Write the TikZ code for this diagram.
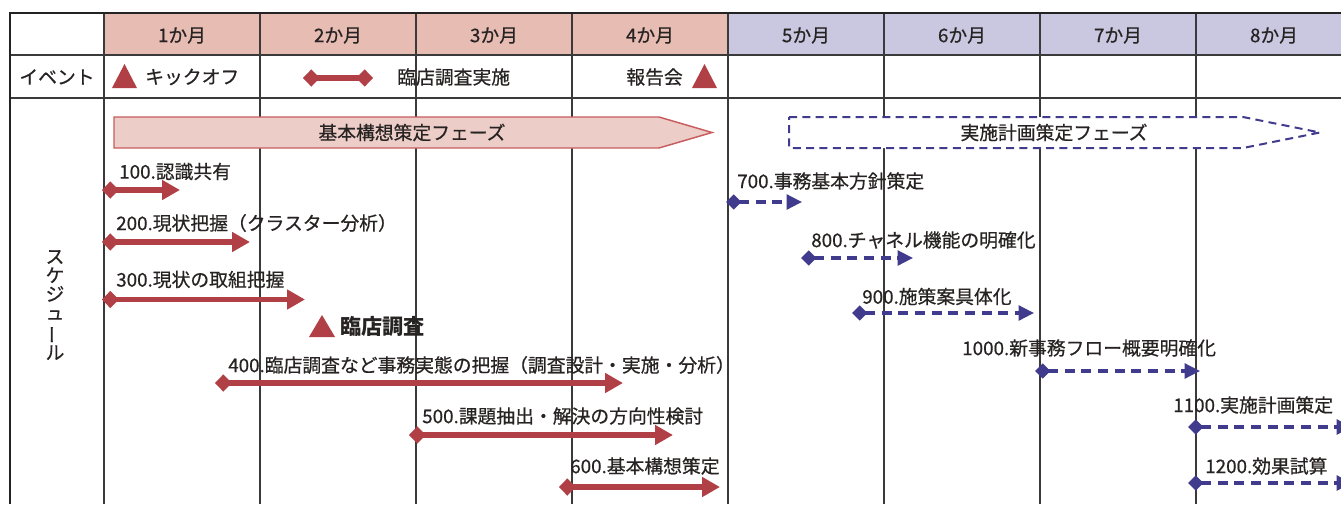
\documentclass[tikz,border=0pt]{standalone}
\usepackage{fontspec}
\usepackage{graphicx}
\setmainfont[UprightFeatures={RawFeature={embolden=0.6}}]{Noto Sans CJK JP}
\usetikzlibrary{arrows.meta}
\definecolor{hdrpink}{RGB}{230,188,179}
\definecolor{hdrblue}{RGB}{201,200,224}
\definecolor{taskred}{RGB}{176,64,69}
\definecolor{taskblue}{RGB}{64,59,140}
\definecolor{phasepink}{RGB}{237,205,199}
\definecolor{phaseline}{RGB}{200,92,94}
\definecolor{gridgray}{RGB}{58,58,58}
\definecolor{txt}{RGB}{40,35,35}
\begin{document}
\begin{tikzpicture}[x=0.75pt,y=-0.75pt,
    every node/.style={inner sep=0pt,text=txt,font=\fontsize{14.1}{16}\selectfont},
    gridline/.style={draw=gridgray,line width=1pt},
    frameline/.style={draw=gridgray!60!black,line width=2pt},
    redtask/.style={draw=taskred,line width=3.8pt,{Diamond[length=12.5pt,width=13pt]}-{Triangle[length=13.5pt,width=14.3pt]}},
    redlegend/.style={draw=taskred,line width=3.8pt,{Diamond[length=12.5pt,width=13pt]}-{Diamond[length=12.5pt,width=13pt]}},
    bluetask/.style={draw=taskblue,line width=2.5pt,dash pattern=on 7.5pt off 5pt,{Diamond[length=11.5pt,width=11.5pt]}-{Triangle[length=11.5pt,width=11pt]}},
    phasered/.style={fill=phasepink,draw=phaseline,line width=1.1pt},
    phaseblue/.style={fill=white,draw=taskblue,line width=1.5pt,dash pattern=on 6pt off 4pt},
    tasklabel/.style={anchor=west}]
    \useasboundingbox (0,0) rectangle (1341,504);
    % header cells
    \foreach \i in {1,...,4}
        \fill[hdrpink] ({104+156*(\i-1)},13) rectangle ++(156,42);
    \foreach \i in {5,...,8}
        \fill[hdrblue] ({104+156*(\i-1)},13) rectangle ++(156,42);
    \foreach \i in {1,...,8}
        \node (m\i) at ({26+156*\i},35.5) {\i か月};
    % grid
    \foreach \x in {104,260,416,572,728,884,1040,1196}
        \draw[gridline] (\x,13) -- (\x,504);
    \draw[gridline] (10,55) -- (1341,55);
    \draw[gridline] (10,98) -- (1341,98);
    \draw[frameline] (1341,13) -- (10,13) -- (10,504);
    % events
    \node (event) at (57,77) {イベント};
    \fill[taskred] (112,88) -- (124.5,64) -- (137,88) -- cycle;
    \node[anchor=west] (kickoff) at (145,77) {キックオフ};
    \coordinate (lega) at (303,78);
    \coordinate (legb) at (373,78);
    \draw[redlegend] (lega) -- (legb);
    \node[anchor=west] (rinten) at (397,77) {臨店調査実施};
    \node[anchor=east] (houkoku) at (683,77) {報告会};
    \fill[taskred] (692,88) -- (704.5,64) -- (717,88) -- cycle;
    % schedule
    \node[align=center,font=\fontsize{14.1}{14.1}\selectfont] (sched) at (55,305)
        {ス\\ケ\\ジ\\ュ\\\rotatebox[origin=c]{90}{ー}\\ル};
    \draw[phasered] (114,117) -- (659,117) -- (712,132.5) -- (659,148) -- (114,148) -- cycle;
    \node (phase1) at (412,132.5) {基本構想策定フェーズ};
    \draw[phaseblue] (789,117) -- (1243,117) -- (1320,132.5) -- (1243,148) -- (789,148) -- cycle;
    \node (phase2) at (1054,132.5) {実施計画策定フェーズ};
    % red tasks: name/start/end/y/label x/label y/text
    \foreach \n/\xa/\xb/\y/\lx/\ly/\t in {
        100/102/180/190/119/171.5/100.認識共有,
        200/102/250/242/116/223/200.現状把握（クラスター分析）,
        300/102/305/299.5/116/279.5/300.現状の取組把握,
        400/215/623/383/228/365/400.臨店調査など事務実態の把握（調査設計・実施・分析）,
        500/409/673/435/422/416/500.課題抽出・解決の方向性検討,
        600/559/720/487/570/466/600.基本構想策定}{
        \coordinate (t\n a) at (\xa,\y);
        \coordinate (t\n b) at (\xb,\y);
        \draw[redtask] (t\n a) -- (t\n b);
        \node[tasklabel] (l\n) at (\lx,\ly) {\t};
    }
    \fill[taskred] (309,337) -- (322,315) -- (335,337) -- cycle;
    \node[anchor=west,font=\fontsize{15.9}{18}\selectfont\bfseries] (survey) at (340,326.5) {臨店調査};
    % blue tasks
    \foreach \n/\xa/\xb/\y/\lx/\ly/\t in {
        700/726/802/202/737/181/700.事務基本方針策定,
        800/801/913/258/811/240/800.チャネル機能の明確化,
        900/852/1034/313/862/296.5/900.施策案具体化,
        1000/1035/1200/371/962/348/1000.新事務フロー概要明確化,
        1100/1188/1352/427/1173/405/1100.実施計画策定,
        1200/1188/1352/483/1205/466/1200.効果試算}{
        \coordinate (t\n a) at (\xa,\y);
        \coordinate (t\n b) at (\xb,\y);
        \draw[bluetask] (t\n a) -- (t\n b);
        \node[tasklabel] (l\n) at (\lx,\ly) {\t};
    }
\end{tikzpicture}
\end{document}
